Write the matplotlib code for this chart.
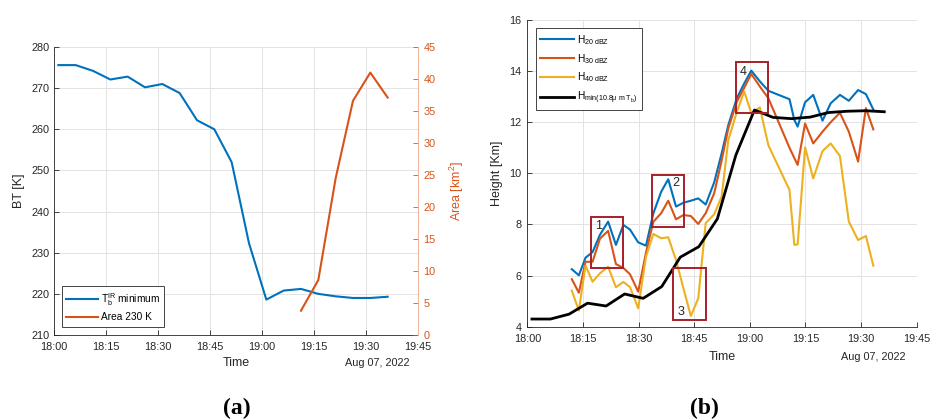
import matplotlib
matplotlib.use("Agg")
import matplotlib.pyplot as plt
import matplotlib.dates as mdates
from matplotlib.patches import Rectangle
from datetime import datetime, timedelta

plt.rcParams['font.family'] = ['Liberation Sans', 'DejaVu Sans']
plt.rcParams['mathtext.fontset'] = 'custom'
plt.rcParams['mathtext.rm'] = 'Liberation Sans'
plt.rcParams['mathtext.it'] = 'Liberation Sans:italic'
plt.rcParams['mathtext.default'] = 'regular'

# ---------------- data ----------------
base = datetime(2022, 8, 7, 18, 0)

# panel (a): satellite, minutes after 18:00
sat_minutes = [1.25, 6.25, 11.25, 16.25, 21.25, 26.25, 31.25, 36.25, 41.25, 46.25,
               51.25, 56.25, 61.25, 66.25, 71.25, 76.25, 81.25, 86.25, 91.25, 96.25]
tb_min = [275.6, 275.6, 274.2, 272.1, 272.8, 270.2, 271.0, 268.8, 262.2, 260.0,
          252.0, 232.3, 218.6, 220.8, 221.2, 220.0, 219.4, 219.0, 219.0, 219.3]
area_minutes = [71.25, 76.25, 81.25, 86.25, 91.25, 96.25]
area_230 = [3.8, 8.6, 24.5, 36.6, 41.0, 37.1]

# panel (b): radar echo tops, minutes after 18:00
radar_minutes = [12.0, 13.9, 15.7, 17.6, 19.6, 21.8, 23.9, 25.9, 27.7, 29.9,
                 32.0, 34.0, 36.1, 38.0, 40.1, 42.1, 44.1, 46.1, 48.1, 50.4,
                 52.4, 54.2, 56.5, 58.5, 60.4, 62.7, 65.0, 70.7, 72.0, 72.9,
                 74.9, 77.1, 79.6, 81.8, 84.3, 86.7, 89.2, 91.3, 93.3]
h20 = [6.25, 6.01, 6.70, 6.92, 7.60, 8.11, 7.20, 7.98, 7.80, 7.30,
       7.17, 8.44, 9.28, 9.77, 8.70, 8.85, 8.93, 9.02, 8.78, 9.65,
       10.78, 11.89, 12.94, 13.52, 14.02, 13.60, 13.23, 12.90, 12.09, 11.83,
       12.78, 13.07, 12.06, 12.74, 13.07, 12.84, 13.26, 13.10, 12.50]
h30 = [5.86, 5.33, 6.54, 6.54, 7.45, 7.75, 6.45, 6.30, 6.05, 5.37,
       6.90, 8.11, 8.44, 8.93, 8.20, 8.37, 8.33, 8.02, 8.44, 9.22,
       10.50, 11.76, 12.80, 13.35, 13.89, 13.40, 12.94, 11.00, 10.60, 10.33,
       11.95, 11.17, 11.63, 12.00, 12.37, 11.63, 10.46, 12.55, 11.72]
h40 = [5.41, 4.63, 6.39, 5.76, 6.09, 6.35, 5.54, 5.75, 5.55, 4.72,
       6.74, 7.63, 7.46, 7.50, 6.61, 5.50, 4.42, 5.11, 8.05, 8.40,
       9.09, 11.30, 12.41, 13.20, 12.35, 12.58, 11.10, 9.35, 7.20, 7.22,
       11.02, 9.80, 10.87, 11.17, 10.68, 8.11, 7.39, 7.55, 6.39]
hmin_tb = [4.30, 4.30, 4.49, 4.92, 4.81, 5.28, 5.11, 5.57, 6.72, 7.13,
           8.22, 10.72, 12.48, 12.19, 12.14, 12.20, 12.38, 12.43, 12.45, 12.41]

# annotation boxes: label, start min, end min, low km, high km
box_labels = ['1', '2', '3', '4']
box_t0 = [17.2, 33.5, 39.4, 56.3]
box_t1 = [25.9, 42.3, 48.1, 65.0]
box_h0 = [6.29, 7.91, 4.26, 12.35]
box_h1 = [8.28, 9.94, 6.29, 14.36]
label_t = [19.1, 40.1, 41.5, 58.3]
label_h = [7.94, 9.61, 4.59, 13.95]

# ---------------- style ----------------
BLUE = '#0072BD'
ORANGE = '#D95319'
YELLOW = '#EDB120'
DARK = '#262626'
GRID = '#e3e3e3'
BOXC = '#A81E2A'
FS = 7.8
LFS = 9.0
LEGFS = 7.3


def tm(mins):
    return [base + timedelta(minutes=m) for m in mins]


def style_axes(ax):
    ax.set_xlim(base, base + timedelta(minutes=105))
    ax.xaxis.set_major_locator(mdates.MinuteLocator(byminute=[0, 15, 30, 45]))
    ax.xaxis.set_major_formatter(mdates.DateFormatter('%H:%M'))
    ax.grid(True, color=GRID, lw=0.7)
    ax.set_axisbelow(True)
    for s in ['top', 'right']:
        ax.spines[s].set_visible(False)
    for s in ['left', 'bottom']:
        ax.spines[s].set_color(DARK)
        ax.spines[s].set_linewidth(0.6)
    ax.tick_params(axis='both', direction='in', length=3.5, width=0.6,
                   colors=DARK, labelsize=FS)
    ax.tick_params(axis='x', pad=5)
    ax.tick_params(axis='y', pad=3)


fig = plt.figure(figsize=(9.34, 4.19), dpi=100)

# ---------------- panel (a) ----------------
ax1 = fig.add_axes([54 / 934, 1 - 335 / 419, 364 / 934, 288 / 419])
style_axes(ax1)
ax1.set_ylim(210, 280)
ax1.set_yticks(range(210, 281, 10))
l1, = ax1.plot(tm(sat_minutes), tb_min, color=BLUE, lw=1.5,
               label=r'T$_b^{IR}$ minimum')
ax1.set_ylabel('BT [K]', fontsize=LFS, color=DARK)
ax1.yaxis.set_label_coords(-0.080, 0.5)
ax1.set_xlabel('Time', fontsize=LFS, color=DARK)
ax1.xaxis.set_label_coords(0.5, -0.077)
ax1.text(0.978, -0.097, 'Aug 07, 2022', transform=ax1.transAxes,
         ha='right', va='center', fontsize=FS, color=DARK)

ax2 = ax1.twinx()
ax2.set_ylim(0, 45)
ax2.set_yticks(range(0, 46, 5))
for s in ['top', 'left', 'bottom']:
    ax2.spines[s].set_visible(False)
ax2.spines['right'].set_color('#f0b8a0')
ax2.spines['right'].set_linewidth(0.8)
ax2.tick_params(axis='y', direction='in', length=3.5, width=0.6,
                colors=ORANGE, labelsize=FS, pad=4)
l2, = ax2.plot(tm(area_minutes), area_230, color=ORANGE, lw=1.5,
               label='Area 230 K')
ax2.set_ylabel('Area [km$^2$]', fontsize=LFS, color=ORANGE)
ax2.yaxis.set_label_coords(1.083, 0.5)

leg1 = ax2.legend(handles=[l1, l2], loc='lower left',
                  bbox_to_anchor=(0.021, 0.029), borderaxespad=0,
                  fontsize=LEGFS, handlelength=3.1, handletextpad=0.3,
                  frameon=True, fancybox=False, framealpha=1,
                  edgecolor=DARK, borderpad=0.45, labelspacing=0.45)
leg1.get_frame().set_linewidth(0.6)

# ---------------- panel (b) ----------------
ax3 = fig.add_axes([527.3 / 934, 1 - 326.7 / 419, 389.4 / 934, 306.7 / 419])
style_axes(ax3)
ax3.set_ylim(4, 16)
ax3.set_yticks(range(4, 17, 2))
ax3.tick_params(axis='y', pad=4)
r1, = ax3.plot(tm(radar_minutes), h20, color=BLUE, lw=1.5,
               label=r'H$_{20\ dBZ}$')
r2, = ax3.plot(tm(radar_minutes), h30, color=ORANGE, lw=1.5,
               label=r'H$_{30\ dBZ}$')
r3, = ax3.plot(tm(radar_minutes), h40, color=YELLOW, lw=1.5,
               label=r'H$_{40\ dBZ}$')
r4, = ax3.plot(tm(sat_minutes), hmin_tb, color='black', lw=2.0,
               label=r'H$_{min(10.8\mu\ m\ T_b)}$')
ax3.set_ylabel('Height [Km]', fontsize=LFS, color=DARK)
ax3.yaxis.set_label_coords(-0.063, 0.5)
ax3.set_xlabel('Time', fontsize=LFS, color=DARK)
ax3.xaxis.set_label_coords(0.5, -0.079)
ax3.text(0.9725, -0.098, 'Aug 07, 2022', transform=ax3.transAxes,
         ha='right', va='center', fontsize=FS, color=DARK)

for lab, t0, t1, h0, h1, lt, lh in zip(box_labels, box_t0, box_t1, box_h0,
                                       box_h1, label_t, label_h):
    x0 = mdates.date2num(base + timedelta(minutes=t0))
    x1 = mdates.date2num(base + timedelta(minutes=t1))
    ax3.add_patch(Rectangle((x0, h0), x1 - x0, h1 - h0, fill=False,
                            edgecolor=BOXC, lw=1.4, zorder=5))
    ax3.text(base + timedelta(minutes=lt), lh, lab, fontsize=9, color=DARK,
             ha='center', va='center', zorder=6)

leg3 = ax3.legend(handles=[r1, r2, r3, r4], loc='upper left',
                  bbox_to_anchor=(0.0216, 0.973), borderaxespad=0,
                  fontsize=LEGFS, handlelength=3.3, handletextpad=0.3,
                  frameon=True, fancybox=False, framealpha=1,
                  edgecolor=DARK, borderpad=0.45, labelspacing=0.5)
leg3.get_frame().set_linewidth(0.6)

# captions
fig.text(237 / 934, 1 - 408 / 419, '(a)', fontsize=17, fontweight='bold',
         family='Liberation Serif', ha='center', va='center')
fig.text(704 / 934, 1 - 408 / 419, '(b)', fontsize=17, fontweight='bold',
         family='Liberation Serif', ha='center', va='center')

fig.savefig('out.png', dpi=100)
